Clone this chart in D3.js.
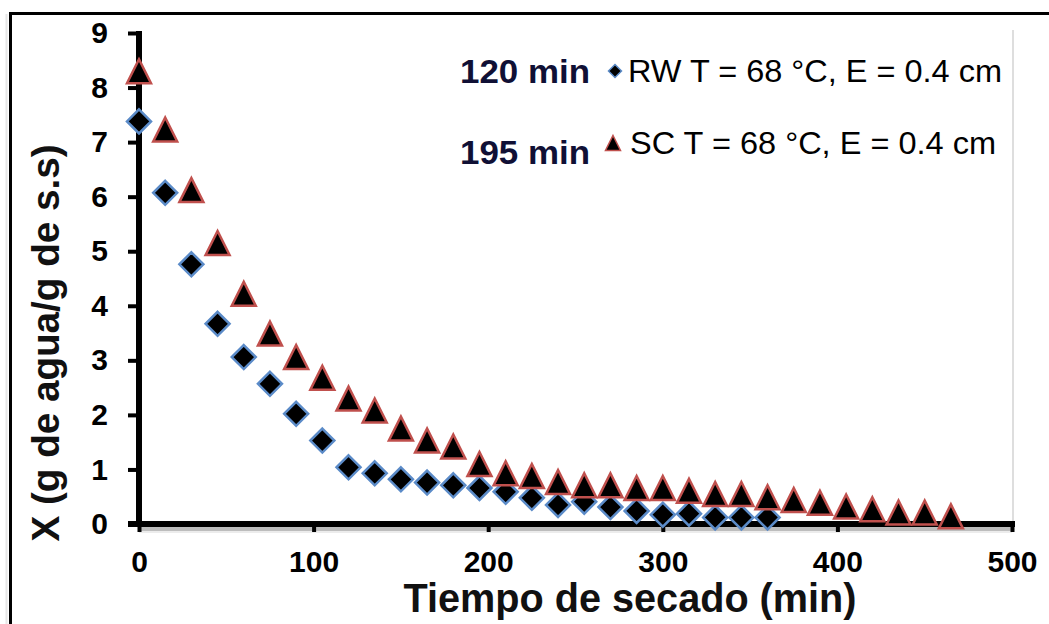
<!DOCTYPE html>
<html>
<head>
<meta charset="utf-8">
<script src="https://cdn.jsdelivr.net/npm/d3@7"></script>
<style>
  html, body { margin: 0; padding: 0; background: #fff; }
  svg { display: block; }
  text { font-family: "Liberation Sans", Arial, sans-serif; }
</style>
</head>
<body>
<svg id="chart" width="1049" height="624"></svg>
<script>
// ---- data ----
const timesRW = [0, 15, 30, 45, 60, 75, 90, 105, 120, 135, 150, 165, 180, 195, 210, 225, 240, 255, 270, 285, 300, 315, 330, 345, 360];
const valuesRW = [7.38, 6.07, 4.76, 3.67, 3.06, 2.57, 2.02, 1.53, 1.04, 0.93, 0.82, 0.76, 0.71, 0.66, 0.59, 0.48, 0.35, 0.41, 0.31, 0.24, 0.17, 0.19, 0.12, 0.12, 0.12];
const timesSC = [0, 15, 30, 45, 60, 75, 90, 105, 120, 135, 150, 165, 180, 195, 210, 225, 240, 255, 270, 285, 300, 315, 330, 345, 360, 375, 390, 405, 420, 435, 450, 465];
const valuesSC = [8.30, 7.23, 6.12, 5.15, 4.22, 3.49, 3.06, 2.68, 2.30, 2.08, 1.75, 1.53, 1.42, 1.10, 0.93, 0.88, 0.77, 0.71, 0.71, 0.66, 0.66, 0.61, 0.55, 0.55, 0.49, 0.44, 0.39, 0.32, 0.27, 0.21, 0.21, 0.14];
const xTicks = [0, 100, 200, 300, 400, 500];
const yTicks = [0, 1, 2, 3, 4, 5, 6, 7, 8, 9];
const seriesNames = ["RW T = 68 °C, E = 0.4 cm", "SC T = 68 °C, E = 0.4 cm"];
const seriesNotes = ["120 min", "195 min"];
const xTitle = "Tiempo de secado (min)";
const yTitle = "X (g de agua/g de s.s)";

const rw = timesRW.map((t, i) => ({ t, v: valuesRW[i] }));
const sc = timesSC.map((t, i) => ({ t, v: valuesSC[i] }));

// ---- layout ----
const svg = d3.select("#chart");
const x = d3.scaleLinear().domain([0, 500]).range([139, 1012]);
const y = d3.scaleLinear().domain([0, 9]).range([524, 33]);

// outer frame (top and left lines)
svg.append("line").attr("x1", 10).attr("x2", 1049).attr("y1", 13.5).attr("y2", 13.5)
  .attr("stroke", "#000").attr("stroke-width", 3);
svg.append("line").attr("x1", 10.5).attr("x2", 10.5).attr("y1", 12).attr("y2", 624)
  .attr("stroke", "#000").attr("stroke-width", 3);
svg.append("line").attr("x1", 6.5).attr("x2", 6.5).attr("y1", 14).attr("y2", 624)
  .attr("stroke", "#e6e6e6").attr("stroke-width", 2);

// plot-area right border (light grey)
svg.append("line").attr("x1", 1013).attr("x2", 1013).attr("y1", 30).attr("y2", 528)
  .attr("stroke", "#dedede").attr("stroke-width", 2);
// grey shadow under x axis
svg.append("rect").attr("x", 139).attr("y", 527).attr("width", 873).attr("height", 4)
  .attr("fill", "#bdbdbd");
svg.append("rect").attr("x", 139).attr("y", 531).attr("width", 873).attr("height", 2)
  .attr("fill", "#ececec");

// axes
const yAxis = d3.axisLeft(y).tickValues(yTicks).tickSize(11).tickSizeOuter(0).tickPadding(20)
  .tickFormat(d3.format("d"));
const gy = svg.append("g").attr("transform", "translate(139,0)").call(yAxis);
gy.select(".domain").attr("stroke", "#000").attr("stroke-width", 6)
  .attr("d", `M0,${y(9) - 2}V527`);
gy.selectAll(".tick line").attr("stroke", "#000").attr("stroke-width", 4);
gy.selectAll(".tick text").attr("fill", "#000").style("font-size", "30px")
  .style("font-weight", "bold")
  .style("font-family", "'Liberation Sans', Arial, sans-serif");

const xAxis = d3.axisBottom(x).tickValues(xTicks).tickSize(8).tickSizeOuter(0).tickPadding(19)
  .tickFormat(d3.format("d"));
const gx = svg.append("g").attr("transform", "translate(0,524)").call(xAxis);
gx.select(".domain").attr("stroke", "#000").attr("stroke-width", 6)
  .attr("d", `M128,0H1015`);
gx.selectAll(".tick line").attr("stroke", "#000").attr("stroke-width", 4);
gx.selectAll(".tick text").attr("fill", "#000").style("font-size", "30px")
  .style("font-weight", "bold")
  .style("font-family", "'Liberation Sans', Arial, sans-serif");

// axis titles
svg.append("text").attr("x", 630).attr("y", 612).attr("text-anchor", "middle")
  .attr("textLength", 453).attr("lengthAdjust", "spacingAndGlyphs")
  .style("font-size", "40px").style("font-weight", "bold").attr("fill", "#111")
  .text(xTitle);
svg.append("text").attr("transform", "translate(59,343) rotate(-90)")
  .attr("text-anchor", "middle")
  .attr("textLength", 397).attr("lengthAdjust", "spacingAndGlyphs")
  .style("font-size", "38px").style("font-weight", "bold").attr("fill", "#111")
  .text(yTitle);

// markers
const diamond = {
  draw(ctx, size) {
    const r = Math.sqrt(size) / 2;
    ctx.moveTo(0, -r); ctx.lineTo(r, 0); ctx.lineTo(0, r); ctx.lineTo(-r, 0); ctx.closePath();
  }
};
const triangle = {
  draw(ctx, size) {
    const h = Math.sqrt(size) / 2;
    ctx.moveTo(0, -h); ctx.lineTo(h, h); ctx.lineTo(-h, h); ctx.closePath();
  }
};

const g = svg.append("g");
g.selectAll("path.rw").data(rw).join("path").attr("class", "rw")
  .attr("transform", d => `translate(${x(d.t)},${y(d.v)})`)
  .attr("d", d3.symbol().type(diamond).size(24 * 24))
  .attr("fill", "#000").attr("stroke", "#5b8bc8").attr("stroke-width", 2.5)
  .attr("stroke-linejoin", "miter");
g.selectAll("path.sc").data(sc).join("path").attr("class", "sc")
  .attr("transform", d => `translate(${x(d.t)},${y(d.v)})`)
  .attr("d", d3.symbol().type(triangle).size(24 * 24))
  .attr("fill", "#000").attr("stroke", "#c0504d").attr("stroke-width", 2.5)
  .attr("stroke-linejoin", "miter");

// legend
const legend = svg.append("g");
const rowsY = [71, 143];
legend.append("path").attr("transform", `translate(615,${rowsY[0]})`)
  .attr("d", d3.symbol().type(diamond).size(13 * 13))
  .attr("fill", "#000").attr("stroke", "#5b8bc8").attr("stroke-width", 1.5);
legend.append("path").attr("transform", `translate(613,${rowsY[1]})`)
  .attr("d", d3.symbol().type(triangle).size(15 * 15))
  .attr("fill", "#000").attr("stroke", "#c0504d").attr("stroke-width", 1.5);
seriesNames.forEach((name, i) => {
  legend.append("text").attr("x", i === 0 ? 628 : 630).attr("y", rowsY[i] + 11)
    .attr("textLength", i === 0 ? 374 : 366).attr("lengthAdjust", "spacingAndGlyphs")
    .style("font-size", "31px").attr("fill", "#000").text(name);
});
seriesNotes.forEach((note, i) => {
  legend.append("text").attr("x", 460).attr("y", i === 0 ? 83 : 164)
    .attr("textLength", 130).attr("lengthAdjust", "spacingAndGlyphs")
    .style("font-size", "33px").style("font-weight", "bold").attr("fill", "#101035").text(note);
});
</script>
</body>
</html>
